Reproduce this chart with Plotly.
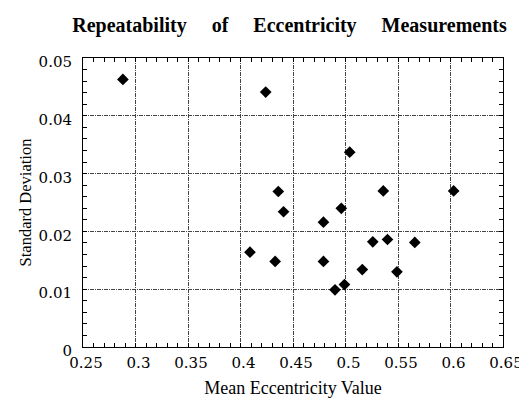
import plotly.graph_objects as go

mean_ecc = [0.288, 0.424, 0.436, 0.441, 0.409, 0.433, 0.479, 0.496, 0.479,
            0.490, 0.499, 0.516, 0.526, 0.540, 0.536, 0.549, 0.603, 0.566, 0.504]
std_dev = [0.0463, 0.0441, 0.0269, 0.0234, 0.0164, 0.0148, 0.0216, 0.0240, 0.0148,
           0.0099, 0.0108, 0.0134, 0.0182, 0.0186, 0.0270, 0.0130, 0.0270, 0.0181, 0.0337]

x_ticks = [0.25, 0.3, 0.35, 0.4, 0.45, 0.5, 0.55, 0.6, 0.65]
x_labels = ["0.25", "0.3", "0.35", "0.4", "0.45", "0.5", "0.55", "0.6", "0.65"]
y_ticks = [0, 0.01, 0.02, 0.03, 0.04, 0.05]
y_labels = ["0", "0.01", "0.02", "0.03", "0.04", "0.05"]

serif = "Liberation Serif, Times New Roman, serif"
tickserif = "DejaVu Serif, Liberation Serif, serif"
gap = " \u00a0\u00a0\u00a0\u00a0"
title = gap.join(["Repeatability", "of", "Eccentricity", "Measurements"])

fig = go.Figure(go.Scatter(
    x=mean_ecc, y=std_dev, mode="markers",
    marker=dict(symbol="diamond", size=9, color="black"),
))

axis_common = dict(
    showline=True, linecolor="black", linewidth=1, mirror="allticks",
    ticks="inside", ticklen=4, tickcolor="black",
    showgrid=True, gridcolor="#444444", griddash="4px,1px,1px,1px", gridwidth=1,
    zeroline=False, automargin=False, ticklabeloverflow="allow",
    tickfont=dict(family=tickserif, size=15, color="black"),
)

# page body has an 8px default margin, so the figure is offset by 8px
fig.update_layout(
    width=519, height=390,
    margin=dict(l=75, r=24, t=50, b=51),
    paper_bgcolor="white", plot_bgcolor="white",
    showlegend=False,
    title=dict(text="<b>" + title + "</b>", x=0.5424, xanchor="center", y=0.956, yanchor="middle",
               font=dict(family=serif, size=20, color="black")),
    xaxis=dict(range=[0.25, 0.65], tickvals=x_ticks, ticktext=x_labels,
               ticklabelstandoff=2, ticklabelshift=3,
               minor=dict(dtick=0.01, ticks="inside", ticklen=4, tickcolor="black", showgrid=False),
               title=dict(text="Mean Eccentricity Value", font=dict(family=serif, size=18, color="black")),
               **axis_common),
    yaxis=dict(range=[0, 0.05], tickvals=y_ticks, ticktext=y_labels,
               ticklabelstandoff=7, ticklabelshift=4,
               minor=dict(dtick=0.002, ticks="inside", ticklen=4, tickcolor="black", showgrid=False),
               title=dict(text="Standard Deviation", font=dict(family=serif, size=16.5, color="black"), standoff=2),
               **axis_common),
)

fig.write_html("out.html")
